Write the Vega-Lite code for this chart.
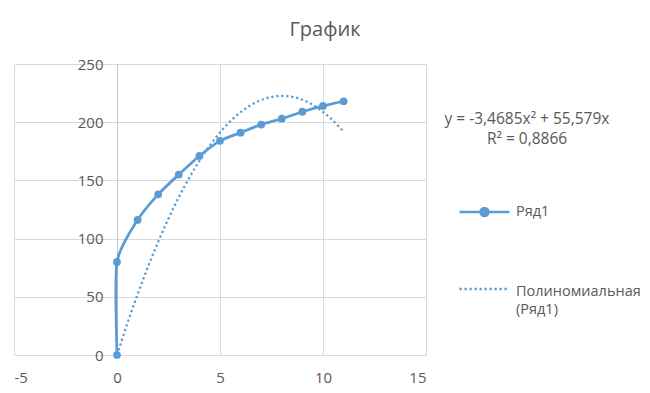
{
  "$schema": "https://vega.github.io/schema/vega-lite/v6.json",
  "autosize": {"type": "none"},
  "width": 412,
  "height": 291,
  "padding": {"left": 14, "top": 64, "right": 224, "bottom": 38},
  "background": "white",
  "title": {"text": "График", "fontSize": 20, "font": "Open Sans", "fontWeight": "normal", "color": "#595959", "anchor": "middle", "dx": 105, "offset": 17},
  "config": {"view": {"stroke": null}, "font": "Open Sans"},
  "datasets": {
    "obs": [
      {"x": 0, "y": 0, "series": "Ряд1"},
      {"x": 0, "y": 80, "series": "Ряд1"},
      {"x": 1, "y": 116, "series": "Ряд1"},
      {"x": 2, "y": 138, "series": "Ряд1"},
      {"x": 3, "y": 155, "series": "Ряд1"},
      {"x": 4, "y": 171, "series": "Ряд1"},
      {"x": 5, "y": 184, "series": "Ряд1"},
      {"x": 6, "y": 191, "series": "Ряд1"},
      {"x": 7, "y": 198, "series": "Ряд1"},
      {"x": 8, "y": 203, "series": "Ряд1"},
      {"x": 9, "y": 209, "series": "Ряд1"},
      {"x": 10, "y": 214, "series": "Ряд1"},
      {"x": 11, "y": 218, "series": "Ряд1"}
    ],
    "trend": [
      {"x": 0, "y": 0, "series": "Полиномиальная (Ряд1)"},
      {"x": 0.5, "y": 26.92, "series": "Полиномиальная (Ряд1)"},
      {"x": 1, "y": 52.11, "series": "Полиномиальная (Ряд1)"},
      {"x": 1.5, "y": 75.56, "series": "Полиномиальная (Ряд1)"},
      {"x": 2, "y": 97.28, "series": "Полиномиальная (Ряд1)"},
      {"x": 2.5, "y": 117.27, "series": "Полиномиальная (Ряд1)"},
      {"x": 3, "y": 135.52, "series": "Полиномиальная (Ряд1)"},
      {"x": 3.5, "y": 152.04, "series": "Полиномиальная (Ряд1)"},
      {"x": 4, "y": 166.82, "series": "Полиномиальная (Ряд1)"},
      {"x": 4.5, "y": 179.87, "series": "Полиномиальная (Ряд1)"},
      {"x": 5, "y": 191.18, "series": "Полиномиальная (Ряд1)"},
      {"x": 5.5, "y": 200.76, "series": "Полиномиальная (Ряд1)"},
      {"x": 6, "y": 208.61, "series": "Полиномиальная (Ряд1)"},
      {"x": 6.5, "y": 214.72, "series": "Полиномиальная (Ряд1)"},
      {"x": 7, "y": 219.10, "series": "Полиномиальная (Ряд1)"},
      {"x": 7.5, "y": 221.74, "series": "Полиномиальная (Ряд1)"},
      {"x": 8, "y": 222.65, "series": "Полиномиальная (Ряд1)"},
      {"x": 8.5, "y": 221.82, "series": "Полиномиальная (Ряд1)"},
      {"x": 9, "y": 219.26, "series": "Полиномиальная (Ряд1)"},
      {"x": 9.5, "y": 214.97, "series": "Полиномиальная (Ряд1)"},
      {"x": 10, "y": 208.94, "series": "Полиномиальная (Ряд1)"},
      {"x": 10.5, "y": 201.18, "series": "Полиномиальная (Ряд1)"},
      {"x": 11, "y": 191.68, "series": "Полиномиальная (Ряд1)"}
    ]
  },
  "encoding": {
    "x": {
      "field": "x", "type": "quantitative",
      "scale": {"domain": [-5, 15], "nice": false, "zero": false},
      "axis": {"title": null, "values": [-5, 0, 5, 10, 15], "labelExpr": "replace(datum.label, '−', '-')", "grid": true, "gridColor": "#D9D9D9", "gridWidth": 1, "domain": true, "domainColor": "#D9D9D9", "ticks": false, "labelPadding": 15, "labelFontSize": 15, "labelColor": "#595959", "labelFont": "Open Sans"}
    },
    "y": {
      "field": "y", "type": "quantitative",
      "scale": {"domain": [0, 250], "nice": false},
      "axis": {"title": null, "values": [0, 50, 100, 150, 200, 250], "grid": true, "gridColor": "#D9D9D9", "gridWidth": 1, "offset": -103, "domain": true, "domainColor": "#C8C8C8", "ticks": false, "labelPadding": 14, "labelFontSize": 15, "labelColor": "#595959", "labelFont": "Open Sans"}
    }
  },
  "layer": [
    {
      "data": {"name": "trend"},
      "mark": {"type": "line", "interpolate": "catmull-rom", "strokeWidth": 2.25, "strokeDash": [2.25, 2.75], "clip": false},
      "encoding": {
        "order": {"field": "x", "type": "quantitative"},
        "color": {
          "field": "series", "type": "nominal",
          "scale": {"domain": ["Ряд1", "Полиномиальная (Ряд1)"], "range": ["#5B9BD5", "#5B9BD5"]},
          "legend": {
            "orient": "none", "legendX": 431, "legendY": 48,
            "title": ["y = -3,4685x² + 55,579x", "R² = 0,8866"],
            "titleFont": "Open Sans", "titleFontSize": 15.5, "titleFontWeight": "normal", "titleColor": "#595959",
            "titleAnchor": "middle", "titleAlign": "center", "titleLineHeight": 20, "titlePadding": 38,
            "symbolSize": 2500, "symbolStrokeWidth": 2.5, "symbolStrokeColor": "#5B9BD5",
            "labelFont": "Open Sans", "labelFontSize": 14.5, "labelColor": "#595959", "labelOffset": 5, "labelLimit": 300,
            "labelExpr": "datum.value === 'Ряд1' ? datum.label : ['Полиномиальная', '(Ряд1)']",
            "rowPadding": 41, "padding": 0,
            "encode": {
              "title": {"update": {"dx": {"value": -22}}},
              "symbols": {"update": {
                "shape": {"signal": "datum.value === 'Ряд1' ? 'M-1,0L1,0M-0.16,0A0.16,0.16 0 1,0 0.16,0A0.16,0.16 0 1,0 -0.16,0Z' : 'M-1,0L1,0'"},
                "fill": {"signal": "datum.value === 'Ряд1' ? '#5B9BD5' : 'transparent'"},
                "stroke": {"value": "#5B9BD5"},
                "strokeWidth": {"value": 2.5},
                "strokeDash": {"signal": "datum.value === 'Ряд1' ? [] : [2.25, 2.75]"},
                "opacity": {"value": 1}
              }},
              "labels": {"update": {
                "lineHeight": {"value": 18},
                "dy": {"signal": "datum.value === 'Ряд1' ? 0 : 3"}
              }}
            }
          }
        }
      }
    },
    {
      "data": {"name": "obs"},
      "mark": {"type": "line", "interpolate": "cardinal", "tension": 0.35, "strokeWidth": 2.75, "clip": false},
      "encoding": {
        "order": {"field": "y", "type": "quantitative"},
        "color": {"field": "series", "type": "nominal"}
      }
    },
    {
      "data": {"name": "obs"},
      "mark": {"type": "point", "filled": true, "size": 60, "opacity": 1, "color": "#5B9BD5", "clip": false}
    }
  ]
}
